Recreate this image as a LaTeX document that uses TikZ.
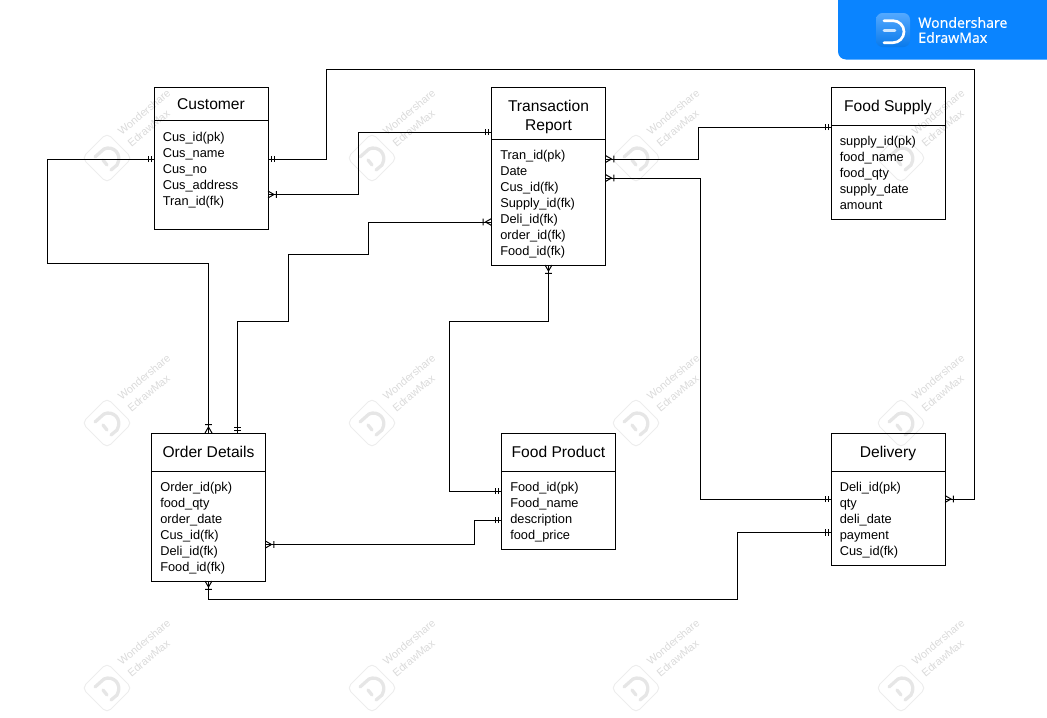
\documentclass[tikz,border=0pt]{standalone}
\usepackage{fontspec}
\setmainfont{Liberation Sans}
\newfontfamily\logofont[FakeBold=0.6]{Open Sans}
\usepackage{tikz}
\usetikzlibrary{positioning,arrows.meta}
\usepackage{xcolor}
\definecolor{bannerblue}{HTML}{0A84FF}
\definecolor{wmgrey}{HTML}{EDEDED}
\definecolor{wmglyph}{HTML}{E6E6E6}
\definecolor{wmtext}{HTML}{DADADA}

\pgfdeclarearrow{
  name=ER One,
  setup code={},
  drawing code={
    \pgfsetdash{}{0pt}
    \pgfpathmoveto{\pgfqpoint{-2.25pt}{-2.4pt}}
    \pgfpathlineto{\pgfqpoint{-2.25pt}{2.4pt}}
    \pgfpathmoveto{\pgfqpoint{-4.5pt}{-2.4pt}}
    \pgfpathlineto{\pgfqpoint{-4.5pt}{2.4pt}}
    \pgfusepathqstroke
  }
}
\pgfdeclarearrow{
  name=ER Many,
  setup code={},
  drawing code={
    \pgfsetdash{}{0pt}
    \pgfpathmoveto{\pgfqpoint{0pt}{-2.6pt}}
    \pgfpathlineto{\pgfqpoint{-4.5pt}{0pt}}
    \pgfpathlineto{\pgfqpoint{0pt}{2.6pt}}
    \pgfpathmoveto{\pgfqpoint{-6.2pt}{-2.6pt}}
    \pgfpathlineto{\pgfqpoint{-6.2pt}{2.6pt}}
    \pgfusepathqstroke
  }
}

\begin{document}
\begin{tikzpicture}[x=0.75pt, y=-0.75pt, line width=0.75pt,
    head/.style={draw=black, rectangle, outer sep=0pt, inner sep=0pt, minimum width=85.5pt, minimum height=28.5pt, align=center, font=\fontsize{11.7}{14.25}\selectfont,
      execute at begin node={\rule{0pt}{10.5pt}}, execute at end node={\rule[-2.5pt]{0pt}{0pt}}},
    attrs/.style={draw=black, rectangle, outer sep=0pt, inner xsep=6.6pt, inner ysep=0pt, text width=72.3pt, align=left, font=\fontsize{9.6}{12}\selectfont,
      execute at begin node={\rule{0pt}{12.5pt}}, execute at end node={\rule[-3.6pt]{0pt}{0pt}}},
    wmline/.style={draw=wmgrey, line cap=round, line join=round}]

  \useasboundingbox (0,0) rectangle (1047,718);

  % watermark
  \foreach \x in {107,372,636,901} {
    \foreach \y in {158,423,688} {
      \draw[wmline, rounded corners=4pt] (\x-25,\y) -- (\x,\y-25) -- (\x+25,\y) -- (\x,\y+25) -- cycle;
      \draw[wmline, draw=wmglyph, line width=2.5pt] (\x-12,\y-1) -- (\x-3,\y-9) .. controls (\x+6,\y-13) and (\x+16,\y-4) .. (\x+10,\y+7) -- (\x+4,\y+12);
      \draw[wmline, draw=wmglyph, line width=2.5pt] (\x-4,\y+2) -- (\x,\y+7);
      \node[rotate=40, text=wmtext, align=left, font=\fontsize{8.1}{11.4}\selectfont] (wm\x\y) at (\x+42,\y-40) {Wondershare\\EdrawMax};
    }
  }

  % banner
  \fill[bannerblue, rounded corners=6pt] (838,-10) -- (838,59.5) -- (1060,59.5) -- (1060,-10) -- cycle;
  \node[rectangle, rounded corners=5pt, top color=bannerblue!70!white, bottom color=bannerblue!92!black, minimum size=25.5pt, inner sep=0pt] (logo) at (893,30) {};
  \draw[white, line width=2pt, line cap=round] (884,20.7) -- (893,20.7) arc[start angle=-90, end angle=90, radius=11] -- (884,42.7);
  \draw[white!80!bannerblue, line width=2pt, line cap=round] (884,30.5) -- (895,30.5);
  \node[right=6pt of logo, xshift=-0.5pt, text=white, align=left, inner sep=0pt, font=\logofont\fontsize{10.6}{11.25}\selectfont] (brand) {Wondershare\\EdrawMax};

  % tables
  \node[head, anchor=north west, minimum height=25.1pt] (customer) at (154,87) {Customer};
  \node[attrs, below=0pt of customer, minimum height=82.1pt] (customerattrs) {Cus\_id(pk)\\Cus\_name\\Cus\_no\\Cus\_address\\Tran\_id(fk)\\\mbox{}};

  \node[head, anchor=north west, minimum height=39pt] (trans) at (491.5,87) {\rule{0pt}{14.3pt}Transaction\\Report};
  \node[attrs, below=0pt of trans, minimum height=94.5pt] (transattrs) {Tran\_id(pk)\\Date\\Cus\_id(fk)\\Supply\_id(fk)\\Deli\_id(fk)\\order\_id(fk)\\Food\_id(fk)};

  \node[head, anchor=north west] (supply) at (831,87) {Food Supply};
  \node[attrs, below=0pt of supply, minimum height=70.5pt] (supplyattrs) {supply\_id(pk)\\food\_name\\food\_qty\\supply\_date\\amount};

  \node[head, anchor=north west] (order) at (151.5,433) {Order Details};
  \node[attrs, below=0pt of order, minimum height=82.5pt] (orderattrs) {Order\_id(pk)\\food\_qty\\order\_date\\Cus\_id(fk)\\Deli\_id(fk)\\Food\_id(fk)};

  \node[head, anchor=north west] (product) at (501.5,433) {Food Product};
  \node[attrs, below=0pt of product, minimum height=58.5pt] (productattrs) {Food\_id(pk)\\Food\_name\\description\\food\_price};

  \node[head, anchor=north west] (delivery) at (831,433) {Delivery};
  \node[attrs, below=0pt of delivery, minimum height=70.5pt] (deliveryattrs) {Deli\_id(pk)\\qty\\deli\_date\\payment\\Cus\_id(fk)};

  % relations
  \draw[{ER One}-{ER Many}] (customerattrs.east |- 0,159) -| (326,69) -| (974,499) -- (deliveryattrs.east |- 0,499);
  \draw[{ER Many}-{ER One}] (customerattrs.east |- 0,194.5) -| (358,132) -- (trans.west |- 0,132);
  \draw[{ER One}-{ER Many}] (customerattrs.west |- 0,159) -| (47,263) -| (order.north);
  \draw[{ER One}-{ER Many}] (order.north -| 237.5,0) |- (288.5,321) |- (368.5,254) |- (transattrs.west |- 0,222);
  \draw[{ER Many}-{ER One}] (transattrs.south -| 548.5,0) |- (449.5,321) |- (productattrs.west |- 0,491);
  \draw[{ER Many}-{ER One}] (transattrs.east |- 0,159) -| (698,127) -- (supply.west |- 0,127);
  \draw[{ER Many}-{ER One}] (transattrs.east |- 0,178) -| (700.5,499) -- (deliveryattrs.west |- 0,499);
  \draw[{ER Many}-{ER One}] (orderattrs.east |- 0,544.5) -| (474,520) -- (productattrs.west |- 0,520);
  \draw[{ER Many}-{ER One}] (orderattrs.south) |- (737.5,599.5) |- (deliveryattrs.west |- 0,532.5);
\end{tikzpicture}
\end{document}
